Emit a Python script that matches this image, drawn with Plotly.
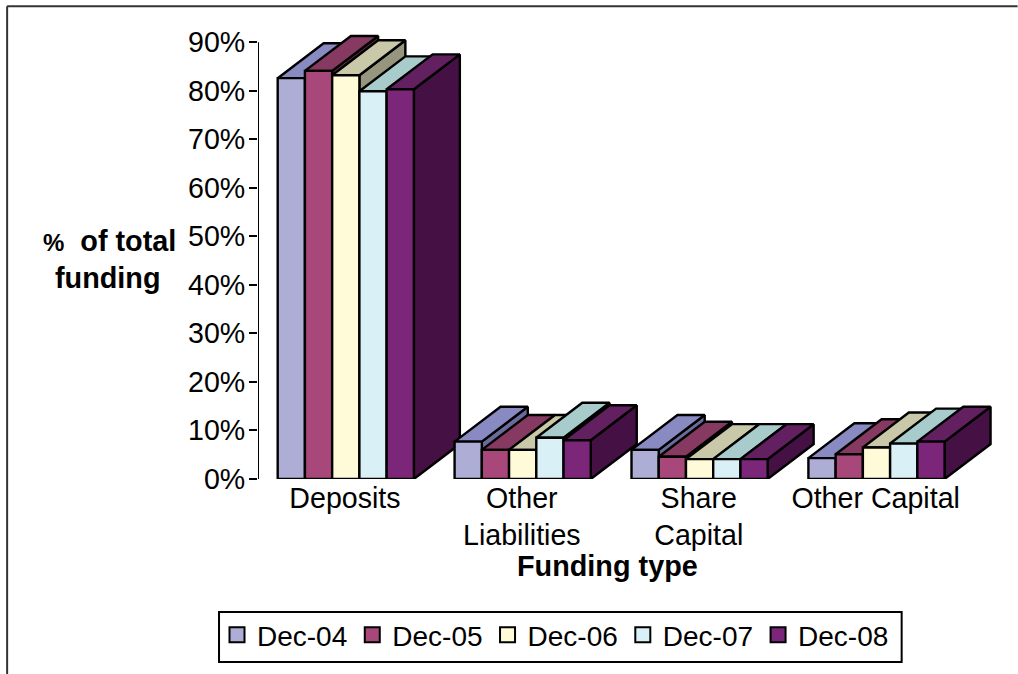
import plotly.graph_objects as go

categories = ["Deposits", "Other<br>Liabilities", "Share<br>Capital", "Other Capital"]
series_names = ["Dec-04", "Dec-05", "Dec-06", "Dec-07", "Dec-08"]
dec04 = [82.6, 7.7, 6.0, 4.3]
dec05 = [84.1, 6.0, 4.6, 5.1]
dec06 = [83.2, 6.0, 4.1, 6.5]
dec07 = [79.9, 8.5, 4.1, 7.3]
dec08 = [80.3, 8.0, 4.1, 7.7]
series_values = [dec04, dec05, dec06, dec07, dec08]
y_ticks = [0, 10, 20, 30, 40, 50, 60, 70, 80, 90]
y_labels = ["0%", "10%", "20%", "30%", "40%", "50%", "60%", "70%", "80%", "90%"]

front_colors = ["#ADADD6", "#A8487A", "#FFFBD8", "#DAF0F7", "#7B2678"]
top_colors = ["#8A8AC2", "#863A62", "#C9C8A8", "#A8CBCB", "#622060"]
side_colors = ["#6A6A9C", "#652C4A", "#96967E", "#839C9C", "#451043"]

FONT = "Liberation Sans, Arial, sans-serif"
# geometry in axis units: one category = 1 on x
GAP = 19.7 / 177
BAR_W = 27.25 / 177
DEPTH_X = 46 / 177
DEPTH_Y = 7.2
LABEL_SHIFT = 1.5 / 177
X_MAX = 4.2
Y_MAX = 95
PX_X = 177.0
PX_Y = 4.855
PLOT_W = X_MAX * PX_X
PLOT_H = Y_MAX * PX_Y
LEFT = 258
BASE = 479


def X(px):
    return (px - LEFT) / PLOT_W


def Y(py):
    return (BASE - py) / PLOT_H


fig = go.Figure()


def face(xs, ys, color):
    fig.add_trace(go.Scatter(
        x=xs + xs[:1], y=ys + ys[:1], mode="lines", fill="toself",
        fillcolor=color, line=dict(color="black", width=2.4),
        showlegend=False, hoverinfo="skip", cliponaxis=False,
    ))


for c in range(len(categories)):
    for s, vals in enumerate(series_values):
        v = vals[c]
        x0 = c + GAP + s * BAR_W
        x1 = x0 + BAR_W
        face([x1, x1 + DEPTH_X, x1 + DEPTH_X, x1], [0, DEPTH_Y, v + DEPTH_Y, v], side_colors[s])
        face([x0, x1, x1 + DEPTH_X, x0 + DEPTH_X], [v, v, v + DEPTH_Y, v + DEPTH_Y], top_colors[s])
        face([x0, x1, x1, x0], [0, 0, v, v], front_colors[s])

for name, color in zip(series_names, front_colors):
    fig.add_trace(go.Scatter(
        x=[None], y=[None], mode="markers", name=name,
        marker=dict(symbol="square", size=15, color=color, line=dict(color="black", width=2)),
    ))

fig.update_layout(
    width=1018, height=674, autosize=False,
    paper_bgcolor="white", plot_bgcolor="white",
    margin=dict(l=LEFT, r=1018 - LEFT - PLOT_W, t=BASE - PLOT_H, b=674 - BASE),
    font=dict(family=FONT, size=28, color="black"),
    xaxis=dict(
        range=[0, X_MAX], tickmode="array",
        tickvals=[c + 0.5 - LABEL_SHIFT for c in range(len(categories))], ticktext=categories,
        ticks="", showgrid=False, zeroline=False, showline=False,
        tickfont=dict(family=FONT, size=28.6), ticklabelstandoff=-1,
    ),
    yaxis=dict(
        range=[0, Y_MAX], tickmode="array", tickvals=y_ticks, ticktext=y_labels,
        ticks="outside", ticklen=8, tickwidth=2, tickcolor="black",
        showline=False, showgrid=False, zeroline=False,
        tickfont=dict(family=FONT, size=28.6), ticklabelstandoff=-2,
    ),
    legend=dict(
        orientation="h", x=555.5 / 1018, xref="container", y=14 / 674, yref="container",
        xanchor="center", yanchor="bottom",
        borderwidth=0, bgcolor="rgba(0,0,0,0)",
        font=dict(family=FONT, size=28),
        itemwidth=30,
    ),
    annotations=[
        dict(text='<b><span style="font-size:24px">%</span>  of total</b>', xref="paper", yref="paper",
             x=X(109), y=Y(241), showarrow=False, xanchor="center", yanchor="middle",
             font=dict(family=FONT, size=28.8)),
        dict(text="<b>funding</b>", xref="paper", yref="paper", x=X(108), y=Y(278),
             showarrow=False, xanchor="center", yanchor="middle", font=dict(family=FONT, size=28.8)),
        dict(text="<b>Funding type</b>", xref="paper", yref="paper", x=X(608), y=Y(566),
             showarrow=False, xanchor="center", yanchor="middle", font=dict(family=FONT, size=28.8)),
    ],
    shapes=[
        dict(type="line", xref="x", yref="y", x0=0, x1=0, y0=0, y1=90, line=dict(color="black", width=2)),
        dict(type="line", xref="paper", yref="paper", x0=X(7), x1=X(1018), y0=Y(6), y1=Y(6),
             line=dict(color="#333333", width=2)),
        dict(type="line", xref="paper", yref="paper", x0=X(7), x1=X(7), y0=Y(6), y1=Y(674),
             line=dict(color="#333333", width=2)),
        dict(type="rect", xref="paper", yref="paper", x0=X(219), x1=X(902), y0=Y(612), y1=Y(662),
             line=dict(color="black", width=2), fillcolor="rgba(0,0,0,0)"),
    ],
)

fig.write_html("out.html", config={"displayModeBar": False},
               post_script="document.body.style.margin='0';")
